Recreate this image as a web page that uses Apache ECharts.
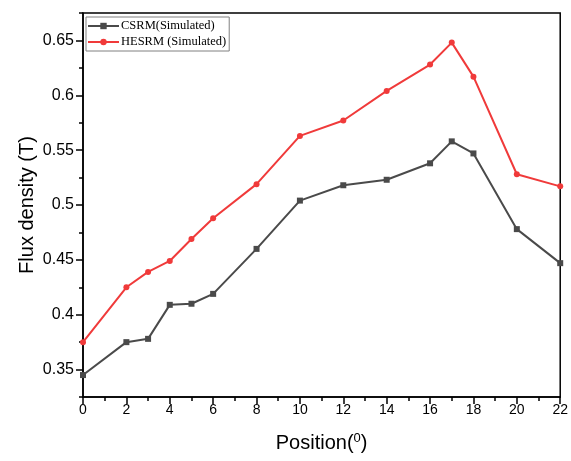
<!DOCTYPE html>
<html>
<head>
<meta charset="utf-8">
<script src="https://cdn.jsdelivr.net/npm/echarts@6/dist/echarts.min.js"></script>
<style>
  html, body { margin: 0; padding: 0; background: #fff; }
  #main { width: 571px; height: 461px; }
</style>
</head>
<body>
<div id="main"></div>
<script>
// 位置 (度) 与两组仿真磁通密度
var positions = [0, 2, 3, 4, 5, 6, 8, 10, 12, 14, 16, 17, 18, 20, 22];
var csrm = [0.345, 0.375, 0.378, 0.409, 0.410, 0.419, 0.460, 0.504, 0.518, 0.523, 0.538, 0.558, 0.547, 0.478, 0.447];
var hesrm = [0.375, 0.425, 0.439, 0.449, 0.469, 0.488, 0.519, 0.563, 0.577, 0.604, 0.628, 0.648, 0.617, 0.528, 0.517];
var yMajorTicks = [0.35, 0.4, 0.45, 0.5, 0.55, 0.6, 0.65];

function pairs(xs, ys) {
    return xs.map(function (x, i) { return [x, ys[i]]; });
}

var myChart = echarts.init(document.getElementById('main'));

var option = {
    animation: false,
    backgroundColor: '#fff',
    grid: {
        left: 83, right: 9, top: 13, bottom: 64,
        show: true, borderColor: '#000', borderWidth: 1.5
    },
    legend: {
        orient: 'vertical',
        left: 86, top: 17,
        itemWidth: 31, itemHeight: 8, itemGap: 2,
        padding: [2, 3, 2, 1],
        borderColor: '#808080', borderWidth: 1,
        backgroundColor: '#fff',
        textStyle: { fontFamily: 'Liberation Serif', fontSize: 12.5, lineHeight: 14, color: '#000', padding: [0, 0, 0, -3] },
        data: ['CSRM(Simulated)', 'HESRM (Simulated)']
    },
    xAxis: {
        type: 'value',
        min: 0, max: 22, interval: 2,
        name: 'Position({sup|0})',
        nameLocation: 'middle',
        nameGap: 35,
        nameMoveOverlap: false,
        nameTextStyle: {
            fontFamily: 'Liberation Sans', fontSize: 20, color: '#000',
            rich: { sup: { fontFamily: 'Liberation Sans', fontSize: 13, color: '#000', verticalAlign: 'top', padding: [0, 0, 10, 0] } }
        },
        axisLine: { lineStyle: { color: '#000', width: 1.5 } },
        axisTick: { length: 7, lineStyle: { color: '#000', width: 1.5 } },
        minorTick: { show: true, splitNumber: 2, length: 4, lineStyle: { color: '#000', width: 1.5 } },
        axisLabel: { fontFamily: 'Liberation Sans', fontSize: 14, color: '#000', margin: 6 },
        splitLine: { show: false }
    },
    yAxis: [
        {
            type: 'value',
            min: 0.325, max: 0.675, interval: 0.025,
            name: 'Flux density (T)',
            nameLocation: 'middle',
            nameGap: 46,
            nameMoveOverlap: false,
            nameTextStyle: { fontFamily: 'Liberation Sans', fontSize: 20, color: '#000' },
            axisLine: { lineStyle: { color: '#000', width: 1.5 } },
            axisTick: { length: 4, lineStyle: { color: '#000', width: 1.5 } },
            axisLabel: {
                fontFamily: 'Liberation Sans', fontSize: 16, color: '#000', margin: 9,
                formatter: function (v) {
                    var k = Math.round(v * 1000);
                    if (k % 50 !== 0) return '';
                    return String(+v.toFixed(3));
                }
            },
            splitLine: { show: false }
        },
        {
            type: 'value',
            position: 'left',
            min: 0.325, max: 0.675, interval: 0.025,
            axisLine: { show: false },
            axisTick: { show: true, length: 7, customValues: yMajorTicks, lineStyle: { color: '#000', width: 1.5 } },
            axisLabel: { show: false },
            splitLine: { show: false }
        }
    ],
    series: [
        {
            name: 'CSRM(Simulated)',
            type: 'line',
            data: pairs(positions, csrm),
            symbol: 'rect',
            symbolSize: 6,
            color: '#4a4a4a',
            lineStyle: { width: 2, color: '#4a4a4a' },
            itemStyle: { color: '#4a4a4a' }
        },
        {
            name: 'HESRM (Simulated)',
            type: 'line',
            data: pairs(positions, hesrm),
            symbol: 'circle',
            symbolSize: 6,
            color: '#f03a3a',
            lineStyle: { width: 2, color: '#f03a3a' },
            itemStyle: { color: '#f03a3a' }
        }
    ]
};

myChart.setOption(option);
</script>
</body>
</html>
